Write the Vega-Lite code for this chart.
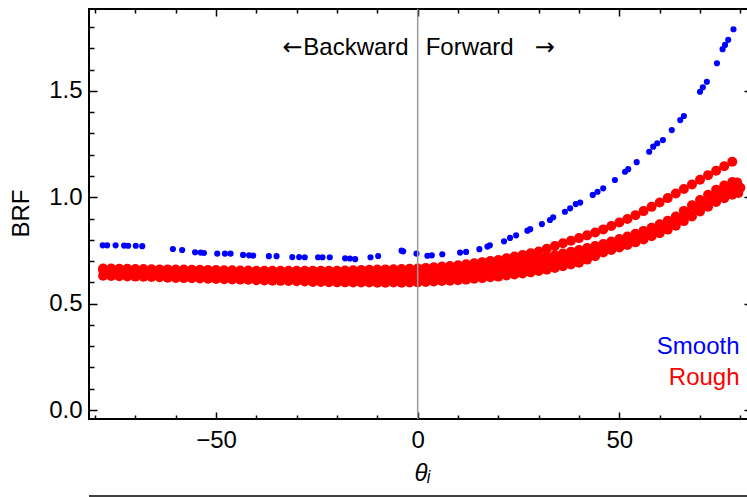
{
"$schema":"https://vega.github.io/schema/vega-lite/v6.json",
"width":659,"height":410,"autosize":"none",
"padding":{"left":89,"top":9,"right":0,"bottom":78},
"config":{"view":{"stroke":"black","strokeWidth":2},"font":"Liberation Sans",
"axis":{"grid":false,"domain":false,"labelFont":"Liberation Sans","labelFontSize":24,"labelColor":"black","titleFont":"Liberation Sans, DejaVu Sans","titleFontSize":24,"titleFontWeight":"normal","titleColor":"black","tickColor":"black","tickWidth":1.5,"labelFlush":false,"labelOverlap":false}},
"datasets":{
"smooth":[{"x":-78.1,"y":0.774},{"x":-77.0,"y":0.774},{"x":-74.9,"y":0.774},{"x":-72.8,"y":0.773},{"x":-71.8,"y":0.772},{"x":-69.9,"y":0.772},{"x":-68.3,"y":0.770},{"x":-60.7,"y":0.757},{"x":-58.4,"y":0.752},{"x":-55.2,"y":0.741},{"x":-53.8,"y":0.740},{"x":-53.0,"y":0.738},{"x":-49.7,"y":0.735},{"x":-47.8,"y":0.735},{"x":-46.4,"y":0.735},{"x":-43.3,"y":0.729},{"x":-41.8,"y":0.727},{"x":-40.8,"y":0.726},{"x":-36.9,"y":0.723},{"x":-35.0,"y":0.723},{"x":-31.1,"y":0.719},{"x":-29.4,"y":0.719},{"x":-28.0,"y":0.718},{"x":-24.7,"y":0.718},{"x":-23.6,"y":0.718},{"x":-21.8,"y":0.718},{"x":-18.0,"y":0.713},{"x":-16.8,"y":0.712},{"x":-15.5,"y":0.709},{"x":-11.7,"y":0.718},{"x":-9.8,"y":0.724},{"x":-4.0,"y":0.749},{"x":-3.6,"y":0.746},{"x":-0.3,"y":0.735},{"x":2.4,"y":0.725},{"x":3.5,"y":0.727},{"x":6.1,"y":0.732},{"x":10.5,"y":0.740},{"x":12.0,"y":0.743},{"x":15.3,"y":0.756},{"x":17.3,"y":0.768},{"x":17.9,"y":0.774},{"x":21.4,"y":0.793},{"x":22.9,"y":0.809},{"x":24.4,"y":0.821},{"x":27.2,"y":0.843},{"x":27.9,"y":0.850},{"x":30.8,"y":0.874},{"x":32.8,"y":0.893},{"x":33.6,"y":0.906},{"x":36.5,"y":0.932},{"x":37.8,"y":0.948},{"x":39.2,"y":0.968},{"x":40.3,"y":0.975},{"x":43.4,"y":1.011},{"x":44.6,"y":1.026},{"x":46.0,"y":1.042},{"x":48.9,"y":1.081},{"x":51.4,"y":1.120},{"x":52.2,"y":1.132},{"x":54.3,"y":1.165},{"x":57.4,"y":1.214},{"x":58.4,"y":1.238},{"x":59.4,"y":1.254},{"x":60.8,"y":1.269},{"x":63.0,"y":1.316},{"x":65.1,"y":1.363},{"x":66.0,"y":1.382},{"x":70.0,"y":1.496},{"x":70.7,"y":1.517},{"x":71.7,"y":1.543},{"x":74.2,"y":1.630},{"x":75.6,"y":1.696},{"x":76.2,"y":1.716},{"x":77.0,"y":1.740},{"x":78.3,"y":1.790}],
"rough":[
{"x":-78,"y":0.665},{"x":-76,"y":0.665},{"x":-74,"y":0.664},{"x":-72,"y":0.664},{"x":-70,"y":0.663},{"x":-68,"y":0.663},{"x":-66,"y":0.662},{"x":-64,"y":0.661},{"x":-62,"y":0.661},{"x":-60,"y":0.660},{"x":-58,"y":0.660},{"x":-56,"y":0.659},{"x":-54,"y":0.659},{"x":-52,"y":0.658},{"x":-50,"y":0.658},{"x":-48,"y":0.657},{"x":-46,"y":0.657},{"x":-44,"y":0.656},{"x":-42,"y":0.656},{"x":-40,"y":0.655},{"x":-38,"y":0.655},{"x":-36,"y":0.655},{"x":-34,"y":0.655},{"x":-32,"y":0.655},{"x":-30,"y":0.655},{"x":-28,"y":0.655},{"x":-26,"y":0.655},{"x":-24,"y":0.655},{"x":-22,"y":0.655},{"x":-20,"y":0.655},{"x":-18,"y":0.656},{"x":-16,"y":0.657},{"x":-14,"y":0.658},{"x":-12,"y":0.659},{"x":-10,"y":0.660},{"x":-8,"y":0.661},{"x":-6,"y":0.662},{"x":-4,"y":0.663},{"x":-2,"y":0.664},{"x":0,"y":0.665},{"x":2,"y":0.668},{"x":4,"y":0.671},{"x":6,"y":0.674},{"x":8,"y":0.677},{"x":10,"y":0.680},{"x":12,"y":0.685},{"x":14,"y":0.690},{"x":16,"y":0.695},{"x":18,"y":0.700},{"x":20,"y":0.705},{"x":22,"y":0.713},{"x":24,"y":0.721},{"x":26,"y":0.729},{"x":28,"y":0.737},{"x":30,"y":0.745},{"x":32,"y":0.758},{"x":34,"y":0.771},{"x":36,"y":0.784},{"x":38,"y":0.796},{"x":40,"y":0.808},{"x":42,"y":0.821},{"x":44,"y":0.834},{"x":46,"y":0.849},{"x":48,"y":0.865},{"x":50,"y":0.881},{"x":52,"y":0.898},{"x":54,"y":0.916},{"x":56,"y":0.935},{"x":58,"y":0.955},{"x":60,"y":0.975},{"x":62,"y":0.996},{"x":64,"y":1.018},{"x":66,"y":1.039},{"x":68,"y":1.060},{"x":70,"y":1.082},{"x":72,"y":1.104},{"x":74,"y":1.125},{"x":76,"y":1.146},{"x":78,"y":1.167},
{"x":-78,"y":0.631},{"x":-78,"y":0.657},{"x":-77,"y":0.6445},{"x":-76,"y":0.630},{"x":-76,"y":0.656},{"x":-75,"y":0.6435},{"x":-74,"y":0.629},{"x":-74,"y":0.656},{"x":-73,"y":0.6425},{"x":-72,"y":0.628},{"x":-72,"y":0.655},{"x":-71,"y":0.641},{"x":-70,"y":0.627},{"x":-70,"y":0.654},{"x":-69,"y":0.641},{"x":-68,"y":0.626},{"x":-68,"y":0.655},{"x":-67,"y":0.640},{"x":-66,"y":0.625},{"x":-66,"y":0.654},{"x":-65,"y":0.6395},{"x":-64,"y":0.624},{"x":-64,"y":0.653},{"x":-63,"y":0.6385},{"x":-62,"y":0.622},{"x":-62,"y":0.653},{"x":-61,"y":0.6375},{"x":-60,"y":0.621},{"x":-60,"y":0.652},{"x":-59,"y":0.6365},{"x":-58,"y":0.620},{"x":-58,"y":0.651},{"x":-57,"y":0.636},{"x":-56,"y":0.619},{"x":-56,"y":0.652},{"x":-55,"y":0.6355},{"x":-54,"y":0.618},{"x":-54,"y":0.651},{"x":-53,"y":0.6345},{"x":-52,"y":0.617},{"x":-52,"y":0.651},{"x":-51,"y":0.634},{"x":-50,"y":0.616},{"x":-50,"y":0.651},{"x":-49,"y":0.6335},{"x":-48,"y":0.615},{"x":-48,"y":0.651},{"x":-47,"y":0.6325},{"x":-46,"y":0.614},{"x":-46,"y":0.650},{"x":-45,"y":0.632},{"x":-44,"y":0.613},{"x":-44,"y":0.651},{"x":-43,"y":0.6315},{"x":-42,"y":0.612},{"x":-42,"y":0.650},{"x":-41,"y":0.6305},{"x":-40,"y":0.610},{"x":-40,"y":0.650},{"x":-39,"y":0.6295},{"x":-38,"y":0.609},{"x":-38,"y":0.649},{"x":-37,"y":0.6285},{"x":-36,"y":0.608},{"x":-36,"y":0.648},{"x":-35,"y":0.628},{"x":-34,"y":0.607},{"x":-34,"y":0.649},{"x":-33,"y":0.6275},{"x":-32,"y":0.606},{"x":-32,"y":0.648},{"x":-31,"y":0.6265},{"x":-30,"y":0.605},{"x":-30,"y":0.647},{"x":-29,"y":0.6255},{"x":-28,"y":0.604},{"x":-28,"y":0.646},{"x":-27,"y":0.6245},{"x":-26,"y":0.602},{"x":-26,"y":0.646},{"x":-25,"y":0.624},{"x":-24,"y":0.602},{"x":-24,"y":0.646},{"x":-23,"y":0.6235},{"x":-22,"y":0.601},{"x":-22,"y":0.645},{"x":-21,"y":0.6225},{"x":-20,"y":0.600},{"x":-20,"y":0.644},{"x":-19,"y":0.622},{"x":-18,"y":0.600},{"x":-18,"y":0.644},{"x":-17,"y":0.622},{"x":-16,"y":0.599},{"x":-16,"y":0.645},{"x":-15,"y":0.622},{"x":-14,"y":0.599},{"x":-14,"y":0.645},{"x":-13,"y":0.622},{"x":-12,"y":0.599},{"x":-12,"y":0.645},{"x":-11,"y":0.622},{"x":-10,"y":0.598},{"x":-10,"y":0.646},{"x":-9,"y":0.622},{"x":-8,"y":0.598},{"x":-8,"y":0.646},{"x":-7,"y":0.6225},{"x":-6,"y":0.599},{"x":-6,"y":0.647},{"x":-5,"y":0.623},{"x":-4,"y":0.598},{"x":-4,"y":0.648},{"x":-3,"y":0.6235},{"x":-2,"y":0.599},{"x":-2,"y":0.649},{"x":-1,"y":0.6245},{"x":0,"y":0.600},{"x":0,"y":0.650},{"x":1,"y":0.626},{"x":2,"y":0.602},{"x":2,"y":0.652},{"x":3,"y":0.628},{"x":4,"y":0.604},{"x":4,"y":0.654},{"x":5,"y":0.630},{"x":6,"y":0.606},{"x":6,"y":0.656},{"x":7,"y":0.632},{"x":8,"y":0.608},{"x":8,"y":0.658},{"x":9,"y":0.634},{"x":10,"y":0.610},{"x":10,"y":0.660},{"x":11,"y":0.637},{"x":12,"y":0.613},{"x":12,"y":0.665},{"x":13,"y":0.641},{"x":14,"y":0.617},{"x":14,"y":0.669},{"x":15,"y":0.645},{"x":16,"y":0.620},{"x":16,"y":0.674},{"x":17,"y":0.649},{"x":18,"y":0.624},{"x":18,"y":0.678},{"x":19,"y":0.653},{"x":20,"y":0.627},{"x":20,"y":0.683},{"x":21,"y":0.6575},{"x":22,"y":0.632},{"x":22,"y":0.688},{"x":23,"y":0.663},{"x":24,"y":0.637},{"x":24,"y":0.695},{"x":25,"y":0.6685},{"x":26,"y":0.642},{"x":26,"y":0.700},{"x":27,"y":0.674},{"x":28,"y":0.647},{"x":28,"y":0.707},{"x":29,"y":0.680},{"x":30,"y":0.653},{"x":30,"y":0.713},{"x":31,"y":0.6865},{"x":32,"y":0.660},{"x":32,"y":0.720},{"x":33,"y":0.694},{"x":34,"y":0.668},{"x":34,"y":0.728},{"x":35,"y":0.702},{"x":36,"y":0.676},{"x":36,"y":0.736},{"x":37,"y":0.710},{"x":38,"y":0.684},{"x":38,"y":0.744},{"x":39,"y":0.718},{"x":40,"y":0.692},{"x":40,"y":0.752},{"x":41,"y":0.728},{"x":42,"y":0.707},{"x":42,"y":0.761},{"x":43,"y":0.7405},{"x":44,"y":0.723},{"x":44,"y":0.771},{"x":45,"y":0.7535},{"x":46,"y":0.740},{"x":46,"y":0.780},{"x":47,"y":0.766},{"x":48,"y":0.752},{"x":48,"y":0.792},{"x":49,"y":0.778},{"x":50,"y":0.764},{"x":50,"y":0.804},{"x":51,"y":0.790},{"x":52,"y":0.776},{"x":52,"y":0.816},{"x":53,"y":0.802},{"x":54,"y":0.788},{"x":54,"y":0.828},{"x":55,"y":0.815},{"x":56,"y":0.802},{"x":56,"y":0.842},{"x":57,"y":0.8295},{"x":58,"y":0.817},{"x":58,"y":0.857},{"x":59,"y":0.8445},{"x":60,"y":0.831},{"x":60,"y":0.873},{"x":61,"y":0.8605},{"x":62,"y":0.848},{"x":62,"y":0.890},{"x":63,"y":0.8785},{"x":64,"y":0.866},{"x":64,"y":0.910},{"x":65,"y":0.900},{"x":66,"y":0.888},{"x":66,"y":0.936},{"x":67,"y":0.924},{"x":68,"y":0.910},{"x":68,"y":0.962},{"x":69,"y":0.948},{"x":70,"y":0.933},{"x":70,"y":0.987},{"x":71,"y":0.972},{"x":72,"y":0.956},{"x":72,"y":1.012},{"x":73,"y":0.996},{"x":74,"y":0.978},{"x":74,"y":1.035},{"x":75,"y":1.015},{"x":76,"y":0.995},{"x":76,"y":1.055},{"x":77,"y":1.035},{"x":78,"y":1.012},{"x":78,"y":1.072},{"x":78.8,"y":1.050},{"x":79.5,"y":1.020},{"x":79.2,"y":1.070},{"x":80,"y":1.045}]
},
"layer":[
{"data":{"name":"rough"},"mark":{"type":"circle","color":"#ff0000","opacity":1,"size":100},
"encoding":{
"x":{"field":"x","type":"quantitative","scale":{"domain":[-81.5,81.9],"nice":false,"zero":false},
"axis":{"orient":"bottom","values":[-50,0,50],"ticks":false,"format":"d","labelPadding":9,"title":"θᵢ","titleFontStyle":"italic","titleX":333,"titleY":61,"titleBaseline":"alphabetic","titleAlign":"center"}},
"y":{"field":"y","type":"quantitative","scale":{"domain":[-0.0423,1.885],"nice":false,"zero":false},
"axis":{"orient":"left","values":[0,0.5,1,1.5],"ticks":false,"format":".1f","labelPadding":7,"title":"BRF","titleAngle":270,"titleX":-68,"titleY":204,"titleBaseline":"middle","titleAlign":"center"}}}},
{"data":{"name":"smooth"},"mark":{"type":"circle","color":"#0000ff","opacity":1,"size":38},
"encoding":{
"x":{"field":"x","type":"quantitative","axis":{"orient":"bottom","values":[-80,-70,-60,-50,-40,-30,-20,-10,0,10,20,30,40,50,60,70,80],"labels":false,"title":null,"tickSize":{"condition":{"test":"datum.value % 50 === 0","value":-7},"value":-4}}},
"y":{"field":"y","type":"quantitative","axis":{"orient":"left","values":[0,0.1,0.2,0.3,0.4,0.5,0.6,0.7,0.8,0.9,1,1.1,1.2,1.3,1.4,1.5,1.6,1.7,1.8],"labels":false,"title":null,"tickSize":{"condition":{"test":"abs(datum.value*2-round(datum.value*2))<0.001","value":-8},"value":-5}}}}},
{"data":{"values":[{}]},"mark":{"type":"rule","color":"#999999","strokeWidth":1.5},
"encoding":{"x":{"datum":0,"type":"quantitative","axis":{"orient":"top","values":[-80,-70,-60,-50,-40,-30,-20,-10,0,10,20,30,40,50,60,70,80],"labels":false,"title":null,"tickSize":{"condition":{"test":"datum.value % 50 === 0","value":-7},"value":-4}}}}},
{"data":{"values":[{}]},"mark":{"type":"text","text":"Backward","align":"right","baseline":"alphabetic","dx":-9,"fontSize":24,"font":"Liberation Sans","color":"black"},
"encoding":{"x":{"datum":0,"type":"quantitative","axis":null},"y":{"datum":1.669,"type":"quantitative","axis":{"orient":"right","values":[0,0.5,1,1.5],"labels":false,"title":null,"tickSize":-4}}}},
{"data":{"values":[{}]},"mark":{"type":"text","text":"←","align":"right","baseline":"alphabetic","dx":-115,"fontSize":24,"font":"DejaVu Sans","color":"black"},
"encoding":{"x":{"datum":0,"type":"quantitative","axis":null},"y":{"datum":1.669,"type":"quantitative","axis":null}}},
{"data":{"values":[{}]},"mark":{"type":"text","text":"Forward","align":"left","baseline":"alphabetic","dx":8,"fontSize":24,"font":"Liberation Sans","color":"black"},
"encoding":{"x":{"datum":0,"type":"quantitative","axis":null},"y":{"datum":1.669,"type":"quantitative","axis":null}}},
{"data":{"values":[{}]},"mark":{"type":"text","text":"→","align":"left","baseline":"alphabetic","dx":117,"fontSize":24,"font":"DejaVu Sans","color":"black"},
"encoding":{"x":{"datum":0,"type":"quantitative","axis":null},"y":{"datum":1.669,"type":"quantitative","axis":null}}},
{"data":{"values":[{}]},"mark":{"type":"text","text":"Smooth","align":"right","baseline":"alphabetic","fontSize":24,"font":"Liberation Sans","color":"#0000ff"},
"encoding":{"x":{"datum":79.8,"type":"quantitative","axis":null},"y":{"datum":0.263,"type":"quantitative","axis":null}}},
{"data":{"values":[{}]},"mark":{"type":"text","text":"Rough","align":"right","baseline":"alphabetic","fontSize":24,"font":"Liberation Sans","color":"#ff0000"},
"encoding":{"x":{"datum":79.8,"type":"quantitative","axis":null},"y":{"datum":0.1175,"type":"quantitative","axis":null}}},
{"data":{"values":[{}]},"mark":{"type":"rule","color":"black","strokeWidth":1.5,"clip":false},
"encoding":{"x":{"datum":-81.5,"type":"quantitative","axis":null},"x2":{"datum":81.9},"y":{"datum":-0.404,"type":"quantitative","axis":null}}}
],
"resolve":{"axis":{"x":"independent","y":"independent"}}
}
